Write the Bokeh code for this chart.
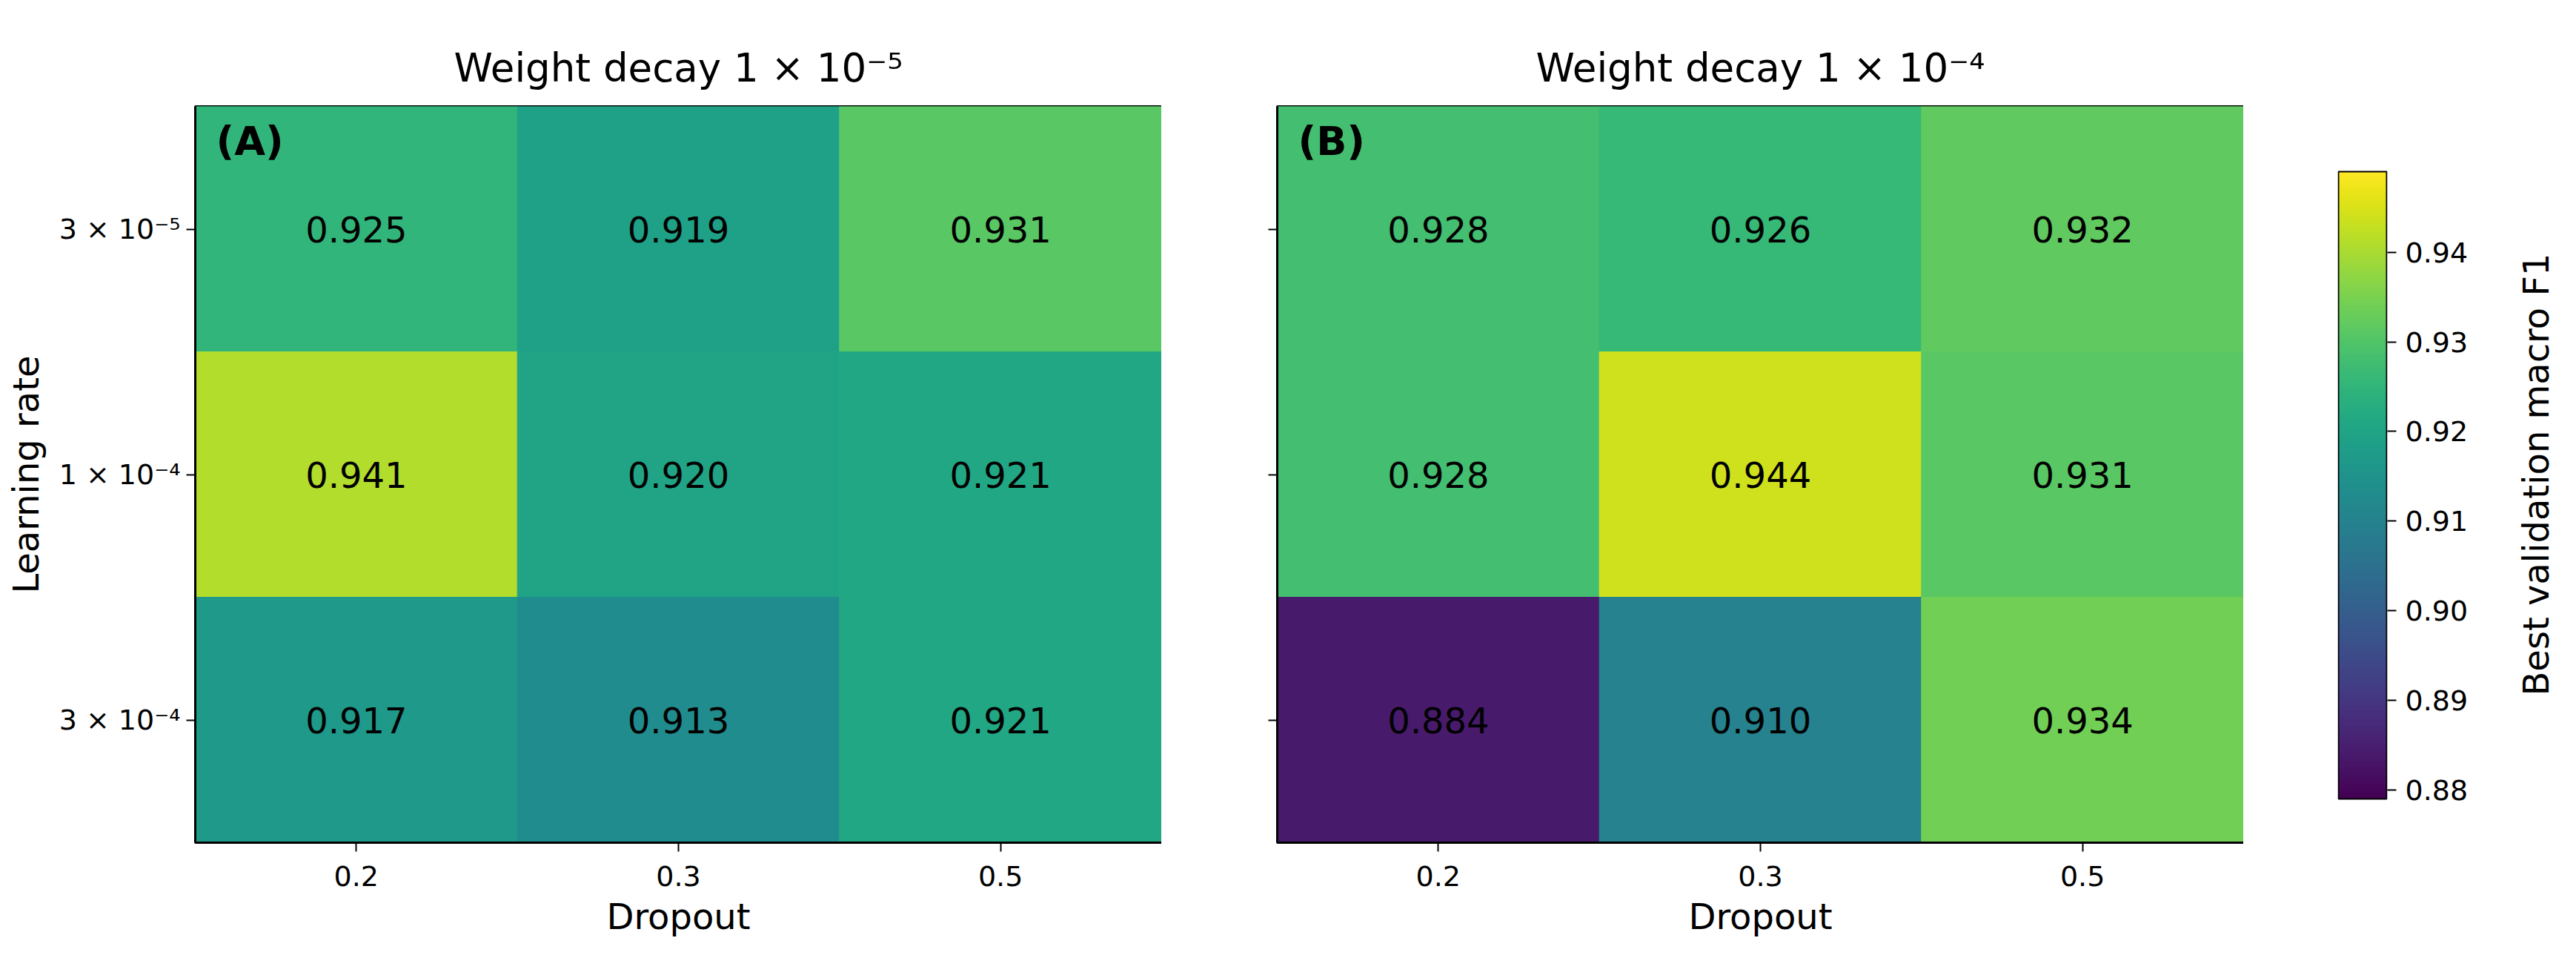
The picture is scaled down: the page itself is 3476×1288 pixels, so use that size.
import numpy as np
from bokeh.plotting import figure
from bokeh.layouts import row
from bokeh.models import (ColumnDataSource, LinearColorMapper, Label, FixedTicker,
                          Range1d, FactorRange, PrintfTickFormatter,
                          CustomJSTickFormatter)
from bokeh.palettes import Viridis256
from bokeh.transform import transform
from bokeh.core.properties import value
from bokeh.embed import file_html
from bokeh.resources import INLINE

# --- data -------------------------------------------------------------
dropout = ["0.2", "0.3", "0.5"]
learning_rates = ["3 × 10⁻⁵", "1 × 10⁻⁴", "3 × 10⁻⁴"]          # rows, top to bottom
panel_titles = ["Weight decay 1 × 10⁻⁵", "Weight decay 1 × 10⁻⁴"]
panel_tags = ["(A)", "(B)"]

# best validation macro F1, rows = learning rate, columns = dropout
f1_wd_1e5 = [[0.925, 0.919, 0.931],
             [0.941, 0.920, 0.921],
             [0.917, 0.913, 0.921]]
f1_wd_1e4 = [[0.928, 0.926, 0.932],
             [0.928, 0.944, 0.931],
             [0.884, 0.910, 0.934]]

cbar_low, cbar_high = 0.879, 0.949
cbar_ticks = [0.88, 0.89, 0.90, 0.91, 0.92, 0.93, 0.94]
cbar_label = "Best validation macro F1"

FONT = "DejaVu Sans"
mapper = LinearColorMapper(palette=Viridis256, low=cbar_low, high=cbar_high)

# shared vertical geometry of every panel (pixels)
BORDER_TOP, FRAME_H, BORDER_BOTTOM = 143, 993, 152


def style_axes(p, tick_size="38px"):
    p.grid.grid_line_color = None
    p.outline_line_color = "black"
    p.outline_line_width = 3
    p.axis.axis_line_color = "black"
    p.axis.axis_line_width = 3
    p.axis.major_tick_in = 0
    p.axis.major_tick_out = 12
    p.axis.major_tick_line_width = 2
    p.axis.minor_tick_line_color = None
    p.axis.major_label_text_font = FONT
    p.axis.major_label_text_font_size = tick_size
    p.axis.major_label_text_color = "black"
    p.axis.major_label_standoff = 8
    p.axis.axis_label_text_font = FONT
    p.axis.axis_label_text_font_size = "48px"
    p.axis.axis_label_text_font_style = "normal"
    p.axis.axis_label_text_color = "black"


def heatmap(values, title, tag, border_left, show_ylabels):
    xs, ys, vs, labels = [], [], [], []
    for i, lr in enumerate(learning_rates):
        for j, d in enumerate(dropout):
            xs.append(d)
            ys.append(lr)
            vs.append(values[i][j])
            labels.append(f"{values[i][j]:.3f}")
    src = ColumnDataSource(dict(x=xs, y=ys, v=vs, label=labels))

    p = figure(x_range=FactorRange(*dropout),
               y_range=FactorRange(*learning_rates[::-1]),
               frame_width=1304, frame_height=FRAME_H,
               min_border_left=border_left, min_border_right=0,
               min_border_top=BORDER_TOP, min_border_bottom=BORDER_BOTTOM,
               output_backend="svg", toolbar_location=None, title=title)
    p.title.align = "center"
    p.title.text_font = FONT
    p.title.text_font_size = "53px"
    p.title.text_font_style = "normal"
    p.title.text_color = "black"
    p.title.standoff = 44

    p.rect(x="x", y="y", width=1, height=1, source=src,
           fill_color=transform("v", mapper),
           line_color=transform("v", mapper), line_width=1)
    p.text(x="x", y="y", text="label", source=src,
           text_align="center", text_baseline="middle",
           text_font=value(FONT), text_font_size="48px", text_color="black")

    style_axes(p)
    p.xaxis.axis_label = "Dropout"
    p.xaxis.major_label_standoff = 19
    p.xaxis.axis_label_standoff = 10
    if show_ylabels:
        p.yaxis.axis_label = "Learning rate"
        p.yaxis.axis_label_standoff = 14
    else:
        p.yaxis.formatter = CustomJSTickFormatter(code="return ''")

    p.add_layout(Label(x=0, y=3, x_offset=28, y_offset=-15, text=tag,
                       text_align="left", text_baseline="top",
                       text_font=FONT, text_font_size="54px",
                       text_font_style="bold", text_color="black"))
    return p


pa = heatmap(f1_wd_1e5, panel_titles[0], panel_tags[0], 263, True)
pb = heatmap(f1_wd_1e4, panel_titles[1], panel_tags[1], 156, False)

# --- colour bar ---------------------------------------------------------
# the bar is shorter than the heatmap frames: pad its value range so that
# it sits 88 px below the frame top and 59 px above the frame bottom
bar_h = 846
px_per_unit = bar_h / (cbar_high - cbar_low)
y_lo = cbar_low - 59 / px_per_unit
y_hi = cbar_high + 88 / px_per_unit

pc = figure(x_range=Range1d(-0.015, 1.015), y_range=Range1d(y_lo, y_hi),
            frame_width=67, frame_height=FRAME_H,
            min_border_left=127, min_border_right=120,
            min_border_top=BORDER_TOP, min_border_bottom=BORDER_BOTTOM,
            y_axis_location="right", x_axis_location=None,
            output_backend="svg", toolbar_location=None)
gradient = np.linspace(cbar_low, cbar_high, 512).reshape(512, 1)
pc.image(image=[gradient], x=0, y=cbar_low, dw=1, dh=cbar_high - cbar_low,
         color_mapper=mapper)
pc.quad(left=0, right=1, bottom=cbar_low, top=cbar_high,
        fill_color=None, line_color="black", line_width=2)
style_axes(pc)
pc.outline_line_color = None
pc.yaxis.axis_line_color = None
pc.yaxis.ticker = FixedTicker(ticks=cbar_ticks)
pc.yaxis.formatter = PrintfTickFormatter(format="%.2f")
pc.yaxis.major_label_standoff = 12

# colour-bar caption: a bare left axis of a slim strip, so it reads upwards
pd = figure(x_range=Range1d(0, 1), y_range=Range1d(y_lo, y_hi),
            frame_width=27, frame_height=FRAME_H,
            min_border_left=108, min_border_right=0,
            min_border_top=BORDER_TOP, min_border_bottom=BORDER_BOTTOM,
            x_axis_location=None,
            output_backend="svg", toolbar_location=None)
style_axes(pd)
pd.outline_line_color = None
pd.yaxis.axis_line_color = None
pd.yaxis.major_tick_out = 0
pd.yaxis.ticker = FixedTicker(ticks=[])
pd.yaxis.axis_label = cbar_label
pd.yaxis.axis_label_standoff = 0

layout = row(pa, pb, pc, pd, spacing=0)
open("out.html", "w").write(file_html(layout, INLINE, "Best validation macro F1"))
